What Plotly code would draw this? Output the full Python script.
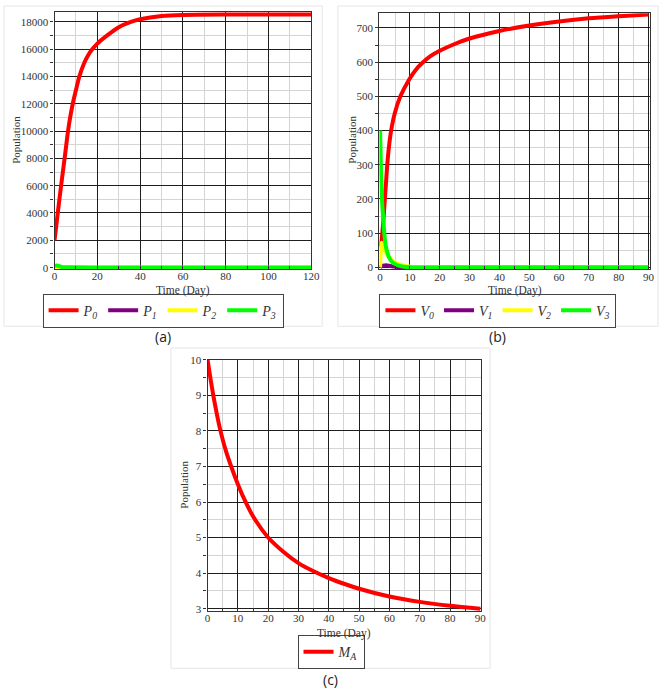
import plotly.graph_objects as go

W, H = 668, 692

# ---------------- data ----------------
# Panel (a)
t_a = [0, 1.5, 3.05, 4.7, 6.3, 7.3, 8.5, 10, 11.6, 13.9, 15.5, 17.7, 20, 24.6, 30, 35, 40, 50, 60, 80, 100, 120]
P0 = [2000, 4000, 6000, 8000, 10000, 11000, 12000, 13000, 14000, 15000, 15500, 16000,
      16400, 17000, 17600, 17950, 18180, 18420, 18500, 18530, 18530, 18530]
t_a_small = [0, 1, 2, 3, 4, 5, 7, 10, 20, 40, 60, 80, 100, 120]
P1 = [0, 10, 15, 12, 8, 5, 2, 1, 0, 0, 0, 0, 0, 0]
P2 = [0, 40, 50, 35, 20, 10, 4, 1, 0, 0, 0, 0, 0, 0]
P3 = [130, 150, 120, 60, 20, 5, 1, 0, 0, 0, 0, 0, 0, 0]

# Panel (b)
t_b0 = [0, 0.4, 0.75, 1.2, 1.6, 2.0, 2.4, 3.0, 3.7, 4.9, 6.8, 9.8, 12, 14.2, 17, 20, 25, 30,
        40, 50, 60, 70, 80, 90]
V0 = [60, 75, 100, 150, 200, 250, 300, 355, 400, 450, 500, 550, 578, 598, 618, 633, 653, 669,
      691, 707, 719, 728, 734, 739]
t_b = [0, 0.25, 0.5, 0.75, 1, 1.5, 2, 3, 4, 5, 6, 8, 10, 15, 20, 40, 60, 90]
V1 = [0, 2, 3, 4, 5, 5.5, 6, 5, 3, 2, 1, 0.3, 0, 0, 0, 0, 0, 0]
V2 = [0, 50, 72, 70, 65, 52, 42, 30, 20, 14, 10, 5, 2, 0.3, 0, 0, 0, 0]
V3 = [400, 300, 230, 180, 150, 91, 58, 29, 16, 10, 6, 2, 0.5, 0, 0, 0, 0, 0]

# Panel (c)
t_c = [0, 1, 2, 3, 4, 6, 8, 10, 12, 15, 20, 25, 30, 35, 40, 45, 50, 60, 70, 80, 90]
MA = [10, 9.45, 8.95, 8.5, 8.1, 7.45, 6.95, 6.5, 6.1, 5.6, 5.0, 4.6, 4.28, 4.05,
      3.86, 3.7, 3.56, 3.34, 3.19, 3.08, 3.0]

names_a = ["<i>P<sub>0</sub></i>", "<i>P<sub>1</sub></i>", "<i>P<sub>2</sub></i>", "<i>P<sub>3</sub></i>"]
names_b = ["<i>V<sub>0</sub></i>", "<i>V<sub>1</sub></i>", "<i>V<sub>2</sub></i>", "<i>V<sub>3</sub></i>"]
name_c = "<i>M<sub>A</sub></i>"
colors = ["#ff0000", "#800080", "#ffff00", "#00ff00"]

captions = ["(a)", "(b)", "(c)"]
xlabel = "Time (Day)"
ylabel = "Population"

# ---------------- helpers ----------------
def px(x):
    return x / W

def py(y):
    return 1 - y / H

SERIF = "Liberation Serif"
LW = 4

fig = go.Figure()

def add(x, y, name, color, xa, ya, leg):
    fig.add_trace(go.Scatter(x=x, y=y, name=name, mode="lines",
                             line=dict(color=color, width=LW, shape="spline", smoothing=0.8),
                             xaxis=xa, yaxis=ya, legend=leg))

add(t_a, P0, names_a[0], colors[0], "x", "y", "legend")
add(t_a_small, P1, names_a[1], colors[1], "x", "y", "legend")
add(t_a_small, P2, names_a[2], colors[2], "x", "y", "legend")
add(t_a_small, P3, names_a[3], colors[3], "x", "y", "legend")

add(t_b0, V0, names_b[0], colors[0], "x2", "y2", "legend2")
add(t_b, V1, names_b[1], colors[1], "x2", "y2", "legend2")
add(t_b, V2, names_b[2], colors[2], "x2", "y2", "legend2")
add(t_b, V3, names_b[3], colors[3], "x2", "y2", "legend2")

add(t_c, MA, name_c, colors[0], "x3", "y3", "legend3")

def axis(domain, rng, dtick, mdtick, anchor, is_x):
    d = dict(domain=domain, range=rng, dtick=dtick, tick0=0, anchor=anchor,
             tickformat="d",
             showgrid=True, gridcolor="#1e1e1e", gridwidth=1.3,
             showline=True, mirror=True, linecolor="#333333", linewidth=1.3,
             zeroline=False,
             ticks="inside" if is_x else "outside", ticklen=3, tickcolor="#333333",
             tickfont=dict(family=SERIF, size=11, color="#333333"),
             minor=dict(dtick=mdtick, tick0=0, showgrid=True, gridcolor="#d4d4d4",
                        gridwidth=1.2, ticks="inside" if is_x else "outside",
                        ticklen=3, tickcolor="#333333"),
             fixedrange=True)
    if is_x:
        d["ticklabelstandoff"] = -3
    return d

panels = {
    "a": dict(x=(52.5, 314), y=(6, 267), xr=[0, 120], yr=[-110, 18720], xd=20, xm=10, yd=2000, ym=1000),
    "b": dict(x=(383.3, 659), y=(7.3, 267.3), xr=[-0.23, 90.56], yr=[-6, 743], xd=10, xm=5, yd=100, ym=50),
    "c": dict(x=(208.3, 487), y=(359, 614), xr=[0, 90.3], yr=[2.93, 10], xd=10, xm=5, yd=1, ym=0.5),
}

layout = dict(width=W, height=H, margin=dict(l=0, r=0, t=0, b=0),
              paper_bgcolor="white", plot_bgcolor="white", showlegend=True)

for i, (k, p) in enumerate(panels.items()):
    sfx = "" if i == 0 else str(i + 1)
    layout["xaxis" + sfx] = axis([px(p["x"][0]), px(p["x"][1])], p["xr"], p["xd"], p["xm"], "y" + sfx, True)
    layout["yaxis" + sfx] = axis([py(p["y"][1]), py(p["y"][0])], p["yr"], p["yd"], p["ym"], "x" + sfx, False)

leg_common = dict(orientation="h", xanchor="center", yanchor="middle",
                  bgcolor="white", bordercolor="#444444", borderwidth=1,
                  font=dict(family=SERIF, size=14, color="#333333"),
                  itemwidth=30, tracegroupgap=0)
layout["legend"] = dict(leg_common, x=px(163), y=py(309))
layout["legend2"] = dict(leg_common, x=px(504), y=py(309))
layout["legend3"] = dict(leg_common, x=px(334), y=py(655.5))

fig.update_layout(**layout)

# panel frames
frames = [(1, 0, 325, 325), (341, 0, 667, 325), (171, 347, 496, 672)]
for x0, y0, x1, y1 in frames:
    fig.add_shape(type="rect", xref="paper", yref="paper",
                  x0=px(x0), x1=px(x1), y0=py(y1), y1=py(y0),
                  line=dict(color="#e6e6e6", width=1), layer="below")

# axis titles
ann = []
for cx, cy in [(183, 289), (521, 289), (347, 637)]:
    ann.append(dict(text=xlabel, x=px(cx), y=py(cy), xref="paper", yref="paper",
                    showarrow=False, font=dict(family=SERIF, size=11.5, color="#333333"),
                    xanchor="center", yanchor="middle"))
for cx, cy in [(13, 136), (355, 136), (184, 486)]:
    ann.append(dict(text=ylabel, x=px(cx), y=py(cy), xref="paper", yref="paper",
                    showarrow=False, textangle=-90,
                    font=dict(family=SERIF, size=11, color="#333333"),
                    xanchor="center", yanchor="middle"))
for txt, (cx, cy) in zip(captions, [(163, 335), (504, 335), (333, 683)]):
    ann.append(dict(text=txt, x=px(cx), y=py(cy), xref="paper", yref="paper",
                    showarrow=False, font=dict(family="Open Sans, Liberation Sans, sans-serif",
                                               size=14, color="#222222"),
                    xanchor="center", yanchor="middle"))
fig.update_layout(annotations=ann)

fig.write_html("out.html")
